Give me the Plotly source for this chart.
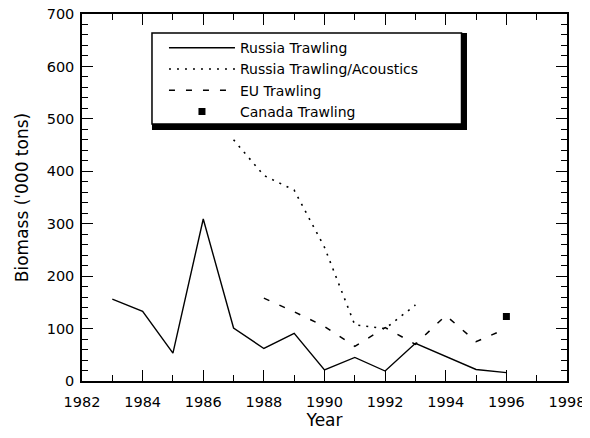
import plotly.graph_objects as go

# ---- data ----
russia_trawl_years = [1983, 1984, 1985, 1986, 1987, 1988, 1989, 1990, 1991, 1992, 1993, 1994, 1995, 1996]
russia_trawl = [156, 133, 53, 309, 101, 62, 91, 21, 45, 19, 72, 47, 22, 16]

russia_ac_years = [1987, 1988, 1989, 1990, 1991, 1992, 1993]
russia_ac = [460, 392, 364, 255, 107, 100, 145]

eu_years = [1988, 1989, 1990, 1991, 1992, 1993, 1994, 1995, 1996]
eu_trawl = [158, 132, 104, 66, 102, 70, 125, 75, 100]

canada_years = [1996]
canada_trawl = [123]

FONT = "DejaVu Sans, Liberation Sans, Arial, sans-serif"

fig = go.Figure()
fig.add_trace(go.Scatter(x=russia_trawl_years, y=russia_trawl, mode="lines",
                         name="Russia Trawling",
                         line=dict(color="black", width=1.4)))
fig.add_trace(go.Scatter(x=russia_ac_years, y=russia_ac, mode="lines",
                         name="Russia Trawling/Acoustics",
                         line=dict(color="black", width=1.6, dash="2px,6px")))
fig.add_trace(go.Scatter(x=eu_years, y=eu_trawl, mode="lines",
                         name="EU Trawling",
                         line=dict(color="black", width=1.5, dash="6px,11px")))
fig.add_trace(go.Scatter(x=canada_years, y=canada_trawl, mode="markers",
                         name="Canada Trawling",
                         marker=dict(symbol="square", color="black", size=7)))

# legend box with drop shadow (paper coordinates)
fig.add_shape(type="rect", xref="paper", yref="paper",
              x0=0.1443, x1=0.7938, y0=0.6839, y1=0.9482,
              fillcolor="black", line=dict(width=0), layer="above")
fig.add_shape(type="rect", xref="paper", yref="paper",
              x0=0.1443, x1=0.7825, y0=0.7003, y1=0.9482,
              fillcolor="white", line=dict(color="black", width=1.5), layer="above")

# the page body has an 8px margin, so the figure is sized to fit the window
fig.update_layout(
    width=582, height=430,
    margin=dict(l=74, r=23, t=6, b=57),
    paper_bgcolor="white", plot_bgcolor="white",
    font=dict(family=FONT, color="black", size=14.5),
    showlegend=True,
    legend=dict(x=0.169, y=0.821, xanchor="left", yanchor="middle",
                bgcolor="rgba(0,0,0,0)", borderwidth=0,
                font=dict(family=FONT, size=14, color="black"),
                itemwidth=66, tracegroupgap=0),
)
fig.update_xaxes(range=[1982, 1998], dtick=2, tick0=1982, automargin=False,
                 showline=True, linecolor="black", linewidth=1.5, mirror="ticks",
                 ticks="inside", ticklen=11, tickwidth=1.2, tickcolor="black",
                 minor=dict(ticks="inside", dtick=1, ticklen=6, tickwidth=1.2, tickcolor="black"),
                 showgrid=False, zeroline=False, ticklabelstandoff=7,
                 ticklabeloverflow="allow",
                 title=dict(text="Year", font=dict(family=FONT, size=17), standoff=5))
fig.update_yaxes(range=[0, 700], dtick=100, tick0=0, automargin=False,
                 showline=True, linecolor="black", linewidth=1.5, mirror="ticks",
                 ticks="inside", ticklen=11, tickwidth=1.2, tickcolor="black",
                 minor=dict(ticks="inside", dtick=20, ticklen=6, tickwidth=1.2, tickcolor="black"),
                 showgrid=False, zeroline=False, ticklabelstandoff=3,
                 ticklabeloverflow="allow",
                 title=dict(text="Biomass ('000 tons)", font=dict(family=FONT, size=17), standoff=14))

fig.write_html("out.html")
